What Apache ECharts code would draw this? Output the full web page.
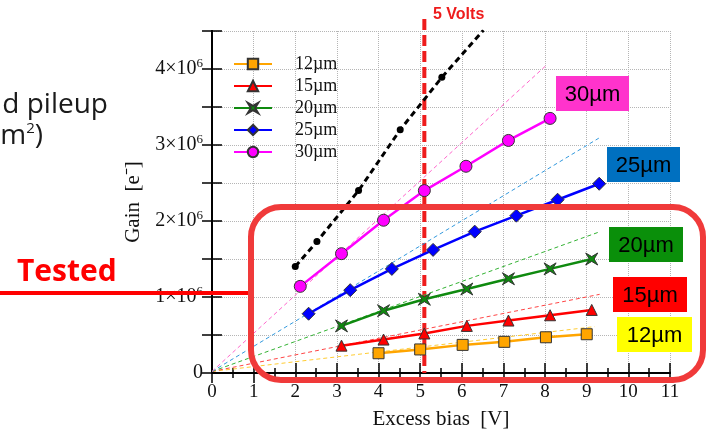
<!DOCTYPE html>
<html><head><meta charset="utf-8">
<script src="https://cdn.jsdelivr.net/npm/echarts@6/dist/echarts.min.js"></script>
<style>html,body{margin:0;padding:0;background:#fff}#c{width:710px;height:435px}</style>
</head><body><div id="c"></div>
<script>
// ---- data (gain in units of 10^6 electrons, bias in volts) ----
const sizes = ['12µm', '15µm', '20µm', '25µm', '30µm'];
const bias12 = [4.0, 5.0, 6.02, 7.02, 8.02, 9.0];
const gain12 = [0.26, 0.31, 0.37, 0.41, 0.47, 0.51];
const bias15 = [3.11, 4.12, 5.1, 6.12, 7.12, 8.12, 9.12];
const gain15 = [0.36, 0.44, 0.52, 0.62, 0.69, 0.76, 0.83];
const bias20 = [3.11, 4.12, 5.1, 6.12, 7.12, 8.12, 9.12];
const gain20 = [0.62, 0.82, 0.97, 1.105, 1.24, 1.37, 1.50];
const bias25 = [2.32, 3.32, 4.32, 5.31, 6.31, 7.31, 8.3, 9.3];
const gain25 = [0.78, 1.09, 1.37, 1.62, 1.86, 2.07, 2.28, 2.49];
const bias30 = [2.12, 3.11, 4.12, 5.1, 6.1, 7.12, 8.12];
const gain30 = [1.14, 1.57, 2.01, 2.40, 2.72, 3.06, 3.35];
const biasRef = [2.0, 2.52, 3.52, 4.52, 5.52, 6.52];
const gainRef = [1.40, 1.73, 2.40, 3.20, 3.89, 4.51];
// linear fits (dashed) start and end points
const fitStartX = [0, 0, 0, 0, 0];
const fitStartY = [0.02, 0.02, 0.02, 0.02, 0.02];
const fitEndX = [9.19, 9.31, 9.27, 9.29, 8.05];
const fitEndY = [0.61, 1.035, 1.85, 3.09, 4.06];
const markerVolts = 5.1;
const markerLabel = '5 Volts';
const xTickValues = [0, 1, 2, 3, 4, 5, 6, 7, 8, 9, 10, 11];
const yTickValues = [0, 1, 2, 3, 4];

const pairs = (xs, ys) => xs.map((x, i) => [x, ys[i]]);
const serif = 'Liberation Serif';
const mainColors = ['#ffa500', '#ff0000', '#0f8a0f', '#0000ff', '#ff00ff'];
const fitColors = ['#ffcc33', '#ff4444', '#33b233', '#3399dd', '#ff66cc'];
const symbols = ['rect', 'triangle', 'path://M0,0 L5,3 L10,0 L7,5 L10,10 L5,7 L0,10 L3,5 Z', 'diamond', 'circle'];
const symSizes = [11, 11, 12, 13, 12];
const mainData = [pairs(bias12, gain12), pairs(bias15, gain15), pairs(bias20, gain20), pairs(bias25, gain25), pairs(bias30, gain30)];

const series = [];
sizes.forEach((name, i) => {
  series.push({
    name: name + ' fit', type: 'line', silent: true, symbol: 'none', z: 1,
    data: [[fitStartX[i], fitStartY[i]], [fitEndX[i], fitEndY[i]]],
    lineStyle: { color: fitColors[i], width: 1, type: [4, 3] }
  });
});
series.push({
  name: 'ref', type: 'line', z: 3,
  data: biasRef.map((x, i) => i === biasRef.length - 1 ? { value: [x, gainRef[i]], symbol: 'none' } : [x, gainRef[i]]),
  symbol: 'circle', symbolSize: 7,
  itemStyle: { color: '#000' },
  lineStyle: { color: '#000', width: 3, type: [6, 4] }
});
sizes.forEach((name, i) => {
  series.push({
    name: name, type: 'line', z: 4, data: mainData[i],
    symbol: symbols[i], symbolSize: symSizes[i],
    itemStyle: { color: mainColors[i], borderColor: '#333', borderWidth: 1 },
    lineStyle: { color: mainColors[i], width: 2.5 }
  });
});

const yLabel = v => {
  if (v === 0) return '{b|0}';
  if (yTickValues.indexOf(v) >= 0) return '{b|' + v + '×10}{s|6}';
  return '';
};
const labelRich = {
  b: { fontFamily: serif, fontSize: 20, color: '#111' },
  s: { fontFamily: serif, fontSize: 13, color: '#111', padding: [0, 0, 10, 0] }
};

const chart = echarts.init(document.getElementById('c'));
chart.setOption({
  animation: false,
  backgroundColor: '#fff',
  grid: { left: 212, right: 40, top: 31, bottom: 62 },
  legend: {
    orient: 'vertical', left: 228, top: 50, itemWidth: 38, itemHeight: 13, itemGap: 4,
    data: sizes,
    textStyle: { fontFamily: serif, fontSize: 18, color: '#111', padding: [0, 0, 0, 18] }
  },
  xAxis: [{
    type: 'value', min: 0, max: 11, interval: 1,
    name: 'Excess bias  [V]', nameLocation: 'middle', nameGap: 36,
    nameTextStyle: { fontFamily: serif, fontSize: 21, color: '#111' },
    axisLine: { lineStyle: { color: '#000', width: 2 } },
    axisTick: { inside: true, length: 10, lineStyle: { color: '#000', width: 1.5 } },
    minorTick: { show: true, splitNumber: 2, length: 5, lineStyle: { color: '#000', width: 1.5 } },
    axisLabel: { fontFamily: serif, fontSize: 19, color: '#111', margin: 10,
      formatter: v => xTickValues.indexOf(v) >= 0 ? String(v) : '' },
    splitLine: { show: true, lineStyle: { color: '#b5b5b5', width: 1, type: [1, 1] } }
  }, {
    type: 'value', position: 'top', min: 0, max: 11, interval: 1,
    axisLine: { lineStyle: { color: '#000', width: 2 } },
    axisTick: { inside: true, length: 10, lineStyle: { color: '#000', width: 1.5 } },
    minorTick: { show: true, splitNumber: 2, length: 5, lineStyle: { color: '#000', width: 1.5 } },
    axisLabel: { show: false }, splitLine: { show: false }
  }],
  yAxis: [{
    type: 'value', min: 0, max: 4.5, interval: 0.5,
    name: 'Gain  [e⁻]', nameLocation: 'middle', nameGap: 68,
    nameTextStyle: { fontFamily: serif, fontSize: 21, color: '#111' },
    axisLine: { lineStyle: { color: '#000', width: 2 } },
    axisTick: { inside: true, length: 10, lineStyle: { color: '#000', width: 1.5 } },
    axisLabel: { margin: 9, formatter: yLabel, rich: labelRich },
    splitLine: { show: true, lineStyle: { color: '#b5b5b5', width: 1, type: [1, 1] } }
  }, {
    type: 'value', position: 'right', min: 0, max: 4.5, interval: 0.5,
    axisLine: { show: true, lineStyle: { color: '#000', width: 2 } },
    axisTick: { show: true, inside: true, length: 10, lineStyle: { color: '#000', width: 1.5 } },
    axisLabel: { show: false }, splitLine: { show: false }
  }],
  series: series
});

const base = chart.convertToPixel({ gridIndex: 0 }, [markerVolts, 0]);
const boxes = [
  { t: '30µm', x: 556, y: 76, w: 73, h: 35, c: '#ff33cc' },
  { t: '25µm', x: 607, y: 147, w: 73, h: 35, c: '#0070c0' },
  { t: '20µm', x: 609, y: 227, w: 74, h: 35, c: '#0a8f0a' },
  { t: '15µm', x: 613, y: 277, w: 74, h: 35, c: '#ff0000' },
  { t: '12µm', x: 617, y: 317, w: 75, h: 35, c: '#ffff00' }
];
const graphics = [
  { type: 'line', z: 1, shape: { x1: base[0], y1: 19, x2: base[0], y2: base[1] },
    style: { stroke: '#ee1c1c', lineWidth: 4, lineDash: [11, 5] } },
  { type: 'text', z: 10, style: { text: markerLabel, x: 433, y: 15, fill: '#ee1c1c',
    font: 'bold 16px "Liberation Sans"', textAlign: 'left', textVerticalAlign: 'middle' } },
  { type: 'text', z: 10, style: { text: 'd pileup', x: 108, y: 105, fill: '#1a1a1a',
    font: '28px "Open Sans"', textAlign: 'right', textVerticalAlign: 'middle' } },
  { type: 'text', z: 10, style: { text: '{a|m}{b|2}{a|)}', x: 43, y: 136, textAlign: 'right', textVerticalAlign: 'middle',
    rich: { a: { fontFamily: 'Open Sans', fontSize: 28, fill: '#1a1a1a', color: '#1a1a1a' },
            b: { fontFamily: 'Open Sans', fontSize: 15, fill: '#1a1a1a', color: '#1a1a1a', padding: [0, 0, 14, 0] } } } },
  { type: 'text', z: 10, style: { text: 'Tested', x: 17, y: 272, fill: '#ff0000',
    font: 'bold 30px "Open Sans"', textAlign: 'left', textVerticalAlign: 'middle' } },
  { type: 'line', z: 20, shape: { x1: 0, y1: 293, x2: 251, y2: 293 }, style: { stroke: '#ff0000', lineWidth: 4 } },
  { type: 'rect', z: 20, shape: { x: 251, y: 207, width: 452, height: 173, r: 30 },
    style: { fill: 'none', stroke: '#f03a3a', lineWidth: 6 } }
];
boxes.forEach(b => {
  graphics.push({ type: 'rect', z: 15, shape: { x: b.x, y: b.y, width: b.w, height: b.h }, style: { fill: b.c } });
  graphics.push({ type: 'text', z: 16, style: { text: b.t, x: b.x + b.w / 2, y: b.y + b.h / 2 + 1, fill: '#000',
    font: '22px "Liberation Sans"', textAlign: 'center', textVerticalAlign: 'middle' } });
});
chart.setOption({ graphic: graphics });
</script></body></html>
